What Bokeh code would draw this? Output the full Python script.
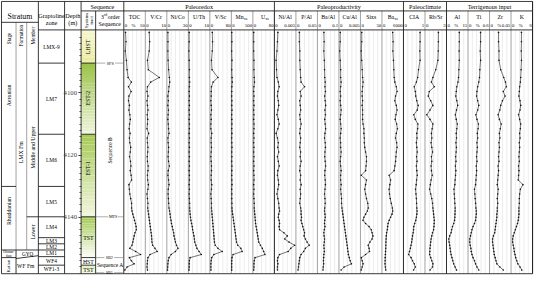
import numpy as np
from bokeh.plotting import figure
from bokeh.models import Range1d, LinearAxis, SingleIntervalTicker
from bokeh.core.properties import value
from bokeh.embed import file_html
from bokeh.resources import INLINE

# ---------------- data (depth in m) ----------------
depth = [4080.5, 4083.5, 4086.5, 4089.5, 4092.5, 4095.0,
         4096.5, 4098.0, 4099.5, 4101.0, 4102.5, 4104.0, 4105.5, 4107.0, 4108.5, 4110.0,
         4111.5, 4113.0, 4114.5, 4116.0, 4117.5, 4119.0, 4120.5, 4122.0, 4123.5, 4125.0,
         4126.5, 4128.0, 4129.5, 4131.0, 4132.5, 4134.0, 4135.5, 4137.0,
         4138, 4139, 4140, 4141, 4142, 4143, 4144, 4145, 4146, 4147, 4148, 4149, 4150,
         4151, 4152, 4153, 4154, 4155, 4156, 4157]

toc = [0.8, 1.0, 0.7, 1.2, 1.5, 2.0,
       3.5, 2.2, 3.4, 2.4, 2.2, 2.6, 2.4, 2.8, 3.0, 2.7, 2.5, 2.9, 2.6, 2.8, 3.2, 3.0, 2.7, 3.1,
       3.3, 3.0, 3.4, 3.6, 2.4, 2.6, 2.8, 3.2, 3.6, 3.6,
       3.8, 4.2, 4.6, 5.0, 5.4, 5.7, 5.8, 5.2, 4.8, 4.5, 4.2, 3.8, 2.8, 5.5, 7.8, 2.6, 3.5, 4.8, 1.5, 0.5]
v_cr = [1.8, 2.0, 1.8, 1.0, 1.4, 6.5,
        2.5, 1.0, 0.8, 1.2, 0.8, 1.0, 1.2, 0.9, 1.1, 1.0, 0.8, 1.5, 0.9, 1.0, 1.2, 1.1, 0.9, 1.0,
        1.3, 1.2, 1.0, 1.1, 1.4, 1.2, 0.8, 1.0, 1.2, 1.1,
        1.3, 1.5, 1.7, 1.9, 2.1, 2.3, 2.5, 2.7, 2.9, 3.0, 3.1, 3.4, 4.5, 5.5, 2.2, 1.2, 1.0, 0.9, 0.8, 1.0]
ni_co = [1.5, 1.6, 1.5, 1.8, 2.5, 3.5,
         4.0, 3.0, 2.5, 1.5, 2.0, 1.5, 2.2, 1.8, 1.5, 2.0, 2.4, 3.0, 1.6, 1.9, 2.5, 2.2, 1.8, 2.4,
         3.4, 2.0, 1.6, 2.4, 3.0, 2.0, 1.8, 2.2, 2.6, 3.0,
         3.8, 4.5, 5.0, 5.8, 6.5, 7.5, 8.5, 9.5, 10.0, 11.0, 12.0, 13.5, 15.5, 12.0, 6.0, 3.0, 2.0, 1.5, 1.2, 1.0]
u_th = [0.4, 0.4, 0.3, 0.4, 0.5, 0.5,
        0.6, 0.5, 0.4, 0.5, 0.4, 0.5, 0.4, 0.5, 0.4, 0.5, 0.5, 0.4, 0.5, 0.4, 0.5, 0.4, 0.5, 0.4,
        0.5, 0.4, 0.5, 0.5, 0.4, 0.5, 0.4, 0.5, 0.6, 0.6,
        0.7, 0.8, 1.0, 1.2, 1.5, 1.8, 2.0, 2.3, 2.6, 2.8, 3.0, 3.5, 4.0, 5.0, 6.0, 0.8, 0.5, 0.4, 0.4, 0.3]
v_sc = [9, 10, 9, 6, 8, 30,
        12, 6, 5, 5, 4, 5, 6, 4, 5, 4, 4, 7, 5, 5, 6, 5, 4, 5, 6, 6, 5, 5, 7, 6, 4, 5, 6, 6,
        7, 8, 9, 10, 11, 12, 13, 14, 15, 16, 17, 20, 30, 46, 15, 7, 5, 4, 4, 4]
mn_xs = [10, 12, 8, 14, 10, 16,
         20, 12, 10, 8, 12, 10, 14, 9, 11, 13, 10, 12, 8, 11, 14, 10, 12, 9, 13, 11, 10, 12, 14, 9,
         11, 10, 13, 15,
         20, 30, 40, 50, 60, 70, 80, 90, 100, 110, 120, 150, 220, 250, 40, 15, 10, 8, 8, 8]
u_xs = [3, 3, 3, 4, 4, 5,
        6, 4, 3, 4, 3, 4, 3, 4, 3, 4, 4, 3, 4, 3, 4, 3, 4, 3, 4, 3, 4, 4, 3, 4, 3, 4, 5, 5,
        6, 7, 8, 9, 10, 12, 14, 16, 18, 20, 22, 28, 35, 40, 45, 8, 5, 4, 4, 3]
ni_al = [0.0008, 0.0007, 0.0006, 0.0004, 0.0005, 0.0006,
         0.0009, 0.0011, 0.0008, 0.0007, 0.0009, 0.0010, 0.0008, 0.0006, 0.0009, 0.0011, 0.0008,
         0.0004, 0.0007, 0.0009, 0.0008, 0.0010, 0.0007, 0.0009, 0.0011, 0.0008, 0.0007, 0.0009,
         0.0010, 0.0008, 0.0006, 0.0008, 0.0010, 0.0011,
         0.0012, 0.0010, 0.0009, 0.0011, 0.0012, 0.0011, 0.0012, 0.0022, 0.0030, 0.0024, 0.0034,
         0.0047, 0.0038, 0.0032, 0.0012, 0.0008, 0.0007, 0.0008, 0.0007, 0.0007]
p_al = [0.008, 0.008, 0.009, 0.009, 0.010, 0.011,
        0.012, 0.020, 0.010, 0.012, 0.009, 0.010, 0.011, 0.009, 0.010, 0.012, 0.010, 0.009, 0.011,
        0.010, 0.009, 0.011, 0.010, 0.012, 0.010, 0.009, 0.011, 0.010, 0.012, 0.010, 0.011, 0.010,
        0.009, 0.011,
        0.012, 0.012, 0.013, 0.012, 0.014, 0.016, 0.018, 0.020, 0.019, 0.022, 0.026, 0.031, 0.022,
        0.018, 0.012, 0.009, 0.008, 0.007, 0.006, 0.005]
ba_al = [0.030, 0.031, 0.030, 0.032, 0.033, 0.034,
         0.036, 0.035, 0.037, 0.034, 0.036, 0.038, 0.035, 0.037, 0.034, 0.036, 0.038, 0.035, 0.033,
         0.036, 0.037, 0.035, 0.034, 0.036, 0.038, 0.035, 0.034, 0.036, 0.037, 0.035, 0.033, 0.035,
         0.036, 0.034,
         0.033, 0.035, 0.036, 0.034, 0.033, 0.035, 0.032, 0.030, 0.031, 0.033, 0.032, 0.030, 0.031,
         0.032, 0.030, 0.029, 0.028, 0.029, 0.027, 0.026]
cu_al = [0.0003, 0.0003, 0.0002, 0.0003, 0.0004, 0.0004,
         0.0005, 0.0004, 0.0003, 0.0004, 0.0003, 0.0004, 0.0005, 0.0004, 0.0003, 0.0004, 0.0005,
         0.0004, 0.0003, 0.0004, 0.0004, 0.0005, 0.0004, 0.0003, 0.0004, 0.0005, 0.0004, 0.0004,
         0.0005, 0.0004, 0.0005, 0.0006, 0.0006, 0.0007,
         0.0008, 0.0009, 0.0010, 0.0011, 0.0012, 0.0013, 0.0014, 0.0015, 0.0016, 0.0017, 0.0018,
         0.0019, 0.0020, 0.0021, 0.0022, 0.0024, 0.0026, 0.0029, 0.0012, 0.0005]
si_xs = [3, 3, 2, 3, 4, 5,
         6, 5, 4, 4, 5, 4, 5, 5, 5, 6, 8, 8, 9, 9, 10, 12, 14, 14, 13, 12, 2, 14, 12, 10, 12, 14,
         17, 18,
         16, 12, 8, 6, 12, 20, 25, 27, 29, 27, 22, 18, 20, 21, 12, 2, 4, 6, 4, 2]
ba_xs = [3000, 3100, 3050, 3200, 3300, 3400,
         3600, 4000, 4200, 3800, 3600, 4000, 4200, 3900, 3700, 4100, 4300, 4000, 3800, 4100, 4200,
         4000, 3900, 3800, 3600, 3400, 2000, 2400, 2200, 2000, 2100, 2300, 2600, 2900,
         3000, 2800, 2400, 2000, 1700, 1600, 1500, 1300, 1200, 1150, 1100, 1080, 1050, 1000, 950,
         900, 880, 850, 950, 1050]
cia = [0.77, 0.77, 0.76, 0.77, 0.70, 0.66,
       0.60, 0.50, 0.55, 0.57, 0.62, 0.68, 0.64, 0.48, 0.55, 0.67, 0.66, 0.62, 0.63, 0.60, 0.62,
       0.64, 0.61, 0.63, 0.60, 0.62, 0.64, 0.61, 0.59, 0.56, 0.58, 0.60, 0.61, 0.62,
       0.63, 0.62, 0.60, 0.57, 0.52, 0.48, 0.47, 0.45, 0.42, 0.40, 0.38, 0.35, 0.32, 0.28, 0.24,
       0.35, 0.42, 0.50, 0.55, 0.47]
rb_sr = [1.87, 1.87, 1.85, 1.80, 1.50, 1.10,
         0.90, 1.30, 0.60, 0.45, 0.80, 1.10, 0.70, 0.25, 0.70, 1.10, 1.00, 0.90, 0.95, 0.85, 0.95,
         1.05, 0.90, 0.95, 0.85, 0.90, 1.00, 0.85, 0.75, 0.65, 0.80, 0.95, 1.05, 1.10,
         1.15, 1.20, 1.25, 1.30, 1.28, 1.25, 1.20, 1.05, 0.95, 0.85, 0.80, 0.75, 0.70, 0.68, 0.65,
         0.80, 0.95, 1.10, 1.05, 0.70]
al = [8.9, 8.9, 8.8, 8.9, 8.6, 8.4,
      8.0, 7.2, 6.8, 6.5, 7.2, 7.8, 7.0, 6.2, 6.8, 7.5, 7.2, 6.8, 7.0, 6.6, 6.9, 6.7, 6.4, 6.6,
      6.2, 6.5, 6.3, 6.0, 5.8, 5.2, 5.4, 5.6, 5.8, 6.0,
      6.0, 5.9, 5.8, 5.6, 5.0, 4.2, 3.6, 3.2, 2.2, 1.6, 1.8, 2.2, 2.5, 2.8, 3.2, 3.8, 4.4, 5.0, 6.0, 7.0]
ti = [0.35, 0.35, 0.34, 0.35, 0.33, 0.32,
      0.30, 0.27, 0.25, 0.24, 0.27, 0.30, 0.27, 0.22, 0.25, 0.29, 0.28, 0.26, 0.27, 0.25, 0.26,
      0.25, 0.24, 0.25, 0.23, 0.24, 0.23, 0.22, 0.21, 0.18, 0.19, 0.20, 0.21, 0.22,
      0.23, 0.23, 0.22, 0.21, 0.18, 0.14, 0.11, 0.09, 0.07, 0.05, 0.05, 0.06, 0.08, 0.09, 0.11,
      0.14, 0.18, 0.21, 0.25, 0.30]
zr = [0.021, 0.021, 0.022, 0.022, 0.026, 0.033,
      0.037, 0.039, 0.032, 0.036, 0.030, 0.026, 0.024, 0.020, 0.023, 0.027, 0.025, 0.023, 0.024,
      0.022, 0.023, 0.022, 0.021, 0.022, 0.020, 0.021, 0.020, 0.019, 0.018, 0.020, 0.019, 0.018,
      0.019, 0.018,
      0.018, 0.017, 0.017, 0.016, 0.015, 0.014, 0.013, 0.012, 0.009, 0.007, 0.007, 0.008, 0.009,
      0.010, 0.011, 0.013, 0.015, 0.017, 0.024, 0.032]
k = [2.9, 2.9, 2.85, 2.9, 2.8, 2.7,
     2.6, 2.4, 2.3, 2.2, 2.5, 2.7, 2.5, 2.1, 2.4, 2.7, 2.6, 2.4, 2.5, 2.3, 2.4, 2.3, 2.2, 2.3,
     2.1, 2.2, 2.1, 2.0, 3.3, 2.6, 2.4, 2.3, 2.3, 2.2,
     2.2, 2.2, 2.1, 2.0, 1.8, 1.5, 1.2, 0.9, 0.6, 0.45, 0.45, 0.6, 0.8, 0.9, 1.1, 1.3, 1.6, 1.9, 2.5, 3.0]

track_names = ["TOC", "V/Cr", "Ni/Co", "U/Th", "V/Sc", "Mn", "U", "Ni/Al", "P/Al", "Ba/Al",
               "Cu/Al", "Sixs", "Ba", "CIA", "Rb/Sr", "Al", "Ti", "Zr", "K"]
track_subs = ["", "", "", "", "", "xs", "xs", "", "", "", "", "", "xs", "", "", "", "", "", ""]
track_units = ["%", "", "", "", "", "", "", "", "", "", "", "", "", "", "", "%", "%", "%", "%"]
track_max = [10, 10, 30, 10, 80, 500, 80, 0.005, 0.05, 0.1, 0.005, 50, 6000, 1, 3, 15, 0.6, 0.05, 6]
track_max_labels = ["10", "10", "30", "10", "80", "500", "80", "0.005", "0.05", "0.1", "0.005",
                    "50", "6000", "1", "3", "15", "0.6", "0.05", "6"]
track_values = [toc, v_cr, ni_co, u_th, v_sc, mn_xs, u_xs, ni_al, p_al, ba_al, cu_al, si_xs,
                ba_xs, cia, rb_sr, al, ti, zr, k]

groups = ["Paleoredox", "Paleoproductivity", "Paleoclimate", "Terrigenous input"]
group_sizes = [7, 6, 2, 4]

grapt_zones = ["LMX-9", "LM7", "LM6", "LM5", "LM4", "LM3", "LM2", "LM1", "WF4", "WF1-3"]
grapt_bounds_px = [31, 66, 141, 196, 228, 250, 256.5, 263, 270, 279, 288]

tracts = ["LHST", "EST-2", "EST-1", "TST", "HST", "TST"]
tract_bounds_px = [31, 66, 141, 228, 271, 279, 288]
tract_top_col = ["#f6f6cc", "#9cc44a", "#a8cb58", "#a6cb57", "#ffffff", "#d8e9a8"]
tract_bot_col = ["#e9eb9c", "#eef4da", "#f1f6df", "#fbfdf5", "#ffffff", "#f0f7de"]

# ---------------- figure (reference-pixel x, depth y) ----------------
FONT = value("Liberation Serif")
Y0PIX, PXM = 97.5, 3.275


def Y(py):
    return 4100.0 + (py - Y0PIX) / PXM


p = figure(width=534, height=277, x_range=Range1d(0, 550), y_range=Range1d(Y(292), Y(0)),
           x_axis_type=None, y_axis_type=None, output_backend="svg", toolbar_location=None,
           min_border=0, outline_line_color=None)
p.background_fill_color = "white"


def T(x, y, s, size=6.0, align="center", angle=0.0, color="black", style="normal"):
    p.text(x=[x], y=[Y(y)], text=[s], text_font=FONT, text_font_size=f"{size}px",
           text_align=align, text_baseline="middle", angle=angle, text_color=color,
           text_font_style=style)


segs = {"x0": [], "y0": [], "x1": [], "y1": []}
gsegs = {"x0": [], "y0": [], "x1": [], "y1": []}
lsegs = {"x0": [], "y0": [], "x1": [], "y1": []}


def L(d, x0, y0, x1, y1):
    d["x0"].append(x0); d["y0"].append(Y(y0)); d["x1"].append(x1); d["y1"].append(Y(y1))


TL, TR = 127.0, 548.0
TW = (TR - TL) / 19

# systems tract gradient fills
for i in range(len(tracts)):
    y0, y1 = tract_bounds_px[i], tract_bounds_px[i + 1]
    n = 24
    c0 = np.array([int(tract_top_col[i][j:j + 2], 16) for j in (1, 3, 5)])
    c1 = np.array([int(tract_bot_col[i][j:j + 2], 16) for j in (1, 3, 5)])
    tops, bots, cols = [], [], []
    for s in range(n):
        f = s / (n - 1)
        c = (c0 * (1 - f) + c1 * f).astype(int)
        tops.append(Y(y0 + (y1 - y0) * s / n))
        bots.append(Y(y0 + (y1 - y0) * (s + 1) / n))
        cols.append("#%02x%02x%02x" % tuple(c))
    p.quad(left=83, right=98, top=tops, bottom=bots, fill_color=cols, line_color=None)

# light grid lines inside tracks
for i in range(19):
    for j in range(1, 5):
        x = TL + i * TW + j * TW / 5
        L(lsegs, x, 31, x, 288)

# frame
L(segs, 1, 1, 548, 1); L(segs, 1, 288, 548, 288)
L(segs, 1, 1, 1, 288); L(segs, 548, 1, 548, 288)
L(segs, 83, 11, 548, 11)
L(segs, 39, 31, 548, 31)
L(segs, 1, 23, 39, 23)
for x in (39, 66, 83):
    L(segs, x, 1, x, 288)
L(segs, 127, 1, 127, 288)
L(segs, 98, 11, 98, 288)
gx = TL
for g in group_sizes:
    gx += g * TW
    L(segs, gx, 1, gx, 288)
for i in range(1, 19):
    x = TL + i * TW
    L(gsegs, x, 11, x, 288)
# stratum columns
L(gsegs, 16, 23, 16, 263); L(gsegs, 27, 23, 27, 263)
L(segs, 16, 263, 16, 288)
L(segs, 1, 196, 16, 196)
L(segs, 1, 263, 39, 263)
L(segs, 1, 271, 16, 271)
L(segs, 16, 272, 39, 269)
L(segs, 27, 228, 39, 228)
# graptolite zones
for yb in grapt_bounds_px[1:-1]:
    L(segs, 39, yb, 66, yb)
# systems tracts
for yb in tract_bounds_px[1:-1]:
    L(segs, 83, yb, 98, yb)

p.segment(x0="x0", y0="y0", x1="x1", y1="y1", source=lsegs, line_color="#d8d8d8", line_width=0.5)
p.segment(x0="x0", y0="y0", x1="x1", y1="y1", source=gsegs, line_color="#7a7a7a", line_width=0.7)
p.segment(x0="x0", y0="y0", x1="x1", y1="y1", source=segs, line_color="#222222", line_width=0.9)

# sequence surfaces
surf = [("SFS", 66, 113), ("MFS", 228, 116), ("SB2", 271, 112), ("SB1", 287, 112)]
for name, yy, xc in surf:
    p.segment(x0=[98, xc + 5], y0=[Y(yy), Y(yy)], x1=[xc - 5, 127], y1=[Y(yy), Y(yy)],
              line_color="#777777", line_width=0.6)
    T(xc, yy, name, size=4.2)
T(113, 158, "Sequence B", size=5.5, angle=np.pi / 2)
T(113, 279, "Sequence A", size=5.5)

# systems tract labels
T(90.5, 49, "LHST", size=5.8, angle=np.pi / 2)
T(90.5, 103, "EST-2", size=5.8, angle=np.pi / 2)
T(90.5, 177, "EST-1", size=5.8, angle=np.pi / 2)
T(90.5, 250, "TST", size=5.8)
T(90.5, 275.5, "HST", size=5.8)
T(90.5, 284, "TST", size=5.8)

# graptolite zone labels
for i, z in enumerate(grapt_zones):
    yc = (grapt_bounds_px[i] + grapt_bounds_px[i + 1]) / 2
    T(52.5, yc, z, size=5.4)

# stratum labels
T(20, 17, "Stratum", size=7.8)
T(8.5, 40, "Stage", size=5.2, angle=np.pi / 2)
T(21.5, 37, "Formation", size=5.2, angle=np.pi / 2)
T(33, 37, "Member", size=5.2, angle=np.pi / 2)
T(8.5, 100, "Aeronian", size=5.8, angle=np.pi / 2)
T(8.5, 222, "Rhuddanian", size=5.8, angle=np.pi / 2)
T(8.5, 265, "Hirnan-", size=3.6)
T(8.5, 269, "tian", size=3.6)
T(8.5, 280, "Katian", size=4.8, angle=np.pi / 2)
T(21.5, 160, "LMX Fm", size=5.8, angle=np.pi / 2)
T(33, 155, "Middle and Upper", size=5.8, angle=np.pi / 2)
T(33, 244, "Lower", size=5.8, angle=np.pi / 2)
T(28, 267, "GYQ", size=5.2)
T(26, 279.5, "WF Fm", size=5.6)

# column headers
T(52.5, 16, "Graptoline", size=6.2)
T(52.5, 23, "zone", size=6.2)
T(74.5, 16, "Depth", size=6.2)
T(74.5, 23, "(m)", size=6.2)
T(105, 6, "Sequence", size=6.2)
T(88.5, 21, "Systems", size=4.6, angle=np.pi / 2)
T(93.5, 21, "tract", size=4.6, angle=np.pi / 2)
T(106.5, 17, "3", size=5.8, align="right")
T(106.6, 15.5, "rd", size=3.8, align="left")
T(110.5, 17, "order", size=5.8, align="left")
T(112.5, 24.5, "Sequence", size=5.8)

gx = TL
for gname, g in zip(groups, group_sizes):
    T(gx + g * TW / 2, 6, gname, size=6.2)
    gx += g * TW

# tracks: headers + curves
d = np.array(depth, dtype=float)
for i in range(19):
    x0 = TL + i * TW
    xc = x0 + TW / 2
    if track_subs[i]:
        T(xc + 1.5, 17, track_names[i], size=5.8, align="right")
        T(xc + 1.6, 18.5, track_subs[i], size=4.0, align="left")
    else:
        T(xc, 17, track_names[i], size=5.8)
    T(x0 + 1, 26, "0", size=4.8, align="left")
    T(x0 + TW - 0.8, 26, track_max_labels[i], size=4.8, align="right")
    if track_units[i]:
        T(xc - 1, 26, track_units[i], size=4.8)
    xs = x0 + np.array(track_values[i], dtype=float) / track_max[i] * TW
    p.line(xs, d, line_color="#1a1a1a", line_width=0.6)
    p.scatter(xs, d, size=1.6, fill_color="#111111", line_color=None)

# depth axis on the depth column
ax = LinearAxis(fixed_location=83, ticker=SingleIntervalTicker(interval=20, num_minor_ticks=10),
                bounds=(4081, 4158))
ax.axis_line_color = None
ax.major_tick_out = 3
ax.major_tick_in = 0
ax.minor_tick_out = 2
ax.minor_tick_in = 0
ax.major_tick_line_color = "#222222"
ax.minor_tick_line_color = "#444444"
ax.major_label_text_font = "Liberation Serif"
ax.major_label_text_font_size = "6.8px"
ax.major_label_standoff = 1
p.add_layout(ax, "left")

open("out.html", "w").write(file_html(p, INLINE))
